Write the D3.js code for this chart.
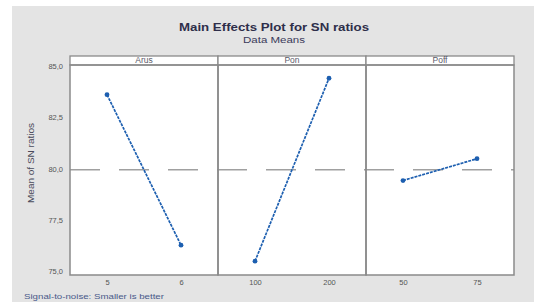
<!DOCTYPE html>
<html><head><meta charset="utf-8">
<script src="https://cdn.jsdelivr.net/npm/d3@7"></script>
<style>body{margin:0;background:#fff}svg{display:block}</style>
</head><body><svg id="c" width="534" height="302"></svg>
<script>
const factors = ["Arus", "Pon", "Poff"];
const levels = [["5", "6"], ["100", "200"], ["50", "75"]];
const snMeans = [[83.59, 76.28], [75.50, 84.39], [79.42, 80.48]];
const yTicks = [75, 77.5, 80, 82.5, 85];
const title = "Main Effects Plot for SN ratios";
const subtitle = "Data Means";
const yTitle = "Mean of SN ratios";
const footer = "Signal-to-noise: Smaller is better";

(function () {
const svg = d3.select("#c");
svg.append("rect").attr("x", 12).attr("y", 6).attr("width", 522).attr("height", 296).attr("fill", "#e4e4e4");

const pLeft = 70, pRight = 514, stripTop = 56, pTop = 65, pBottom = 275;
const panelW = (pRight - pLeft) / factors.length;
const y = d3.scaleLinear().domain([75, 85]).range([271.5, 65.7]);
const font = "'Liberation Sans', Arial, sans-serif";

svg.append("text").attr("x", 274).attr("y", 30.5).attr("text-anchor", "middle")
  .attr("font-family", font).attr("font-size", 11.5).attr("font-weight", "bold").attr("fill", "#2e2e4a")
  .attr("textLength", 190).attr("lengthAdjust", "spacingAndGlyphs").text(title);
svg.append("text").attr("x", 274).attr("y", 42.5).attr("text-anchor", "middle")
  .attr("font-family", font).attr("font-size", 8.5).attr("fill", "#3a3a5a")
  .attr("textLength", 62).attr("lengthAdjust", "spacingAndGlyphs").text(subtitle);

svg.append("rect").attr("x", pLeft).attr("y", stripTop).attr("width", pRight - pLeft).attr("height", pBottom - stripTop).attr("fill", "#fff");

const grand = d3.mean(snMeans.flat());

svg.append("line").attr("x1", pLeft).attr("x2", pRight).attr("y1", y(grand)).attr("y2", y(grand))
  .attr("stroke", "#a0a0a0").attr("stroke-width", 1.4).attr("stroke-dasharray", "30,19");

factors.forEach((f, i) => {
  const x0 = pLeft + i * panelW;
  const x = d3.scalePoint().domain(levels[i]).range([x0, x0 + panelW]).padding(0.5);
  const g = svg.append("g");
  const pts = levels[i].map((l, j) => [x(l), y(snMeans[i][j])]);
  g.append("path").attr("d", d3.line()(pts)).attr("fill", "none").attr("stroke", "#1d5fb0").attr("stroke-width", 1.7).attr("stroke-dasharray", "3,1");
  g.selectAll("circle").data(pts).join("circle").attr("cx", d => d[0]).attr("cy", d => d[1]).attr("r", 2.4).attr("fill", "#1d5fb0");
  const ax = svg.append("g").attr("transform", `translate(0,${pBottom})`)
    .call(d3.axisBottom(x).tickSize(0).tickPadding(5));
  ax.select(".domain").remove();
  ax.selectAll("text").attr("font-family", font).attr("font-size", 7.5).attr("fill", "#555");
  svg.append("rect").attr("x", x0).attr("y", stripTop).attr("width", panelW).attr("height", pTop - stripTop)
    .attr("fill", "#fff").attr("stroke", "#8a8a8a").attr("stroke-width", 1.3);
  svg.append("text").attr("x", x0 + panelW / 2).attr("y", stripTop + 6.8).attr("text-anchor", "middle")
    .attr("font-family", font).attr("font-size", 8.5).attr("fill", "#5a5a6a").text(f);
  svg.append("rect").attr("x", x0).attr("y", pTop).attr("width", panelW).attr("height", pBottom - pTop)
    .attr("fill", "none").attr("stroke", "#8a8a8a").attr("stroke-width", 1.5);
});

const yAx = svg.append("g").attr("transform", `translate(${pLeft},0)`)
  .call(d3.axisLeft(y).tickValues(yTicks).tickSize(0).tickPadding(7).tickFormat(d => d3.format(".1f")(d).replace(".", ",")));
yAx.select(".domain").remove();
yAx.selectAll("text").attr("font-family", font).attr("font-size", 7.5).attr("fill", "#555");

svg.append("text").attr("transform", "translate(34,163) rotate(-90)").attr("text-anchor", "middle")
  .attr("font-family", font).attr("font-size", 8.5).attr("fill", "#4a4a5a")
  .attr("textLength", 80).attr("lengthAdjust", "spacingAndGlyphs").text(yTitle);

svg.append("text").attr("x", 24).attr("y", 299).attr("font-family", font).attr("font-size", 7.5)
  .attr("fill", "#4a5a8a").attr("textLength", 140).attr("lengthAdjust", "spacingAndGlyphs").text(footer);
})();
</script></body></html>
